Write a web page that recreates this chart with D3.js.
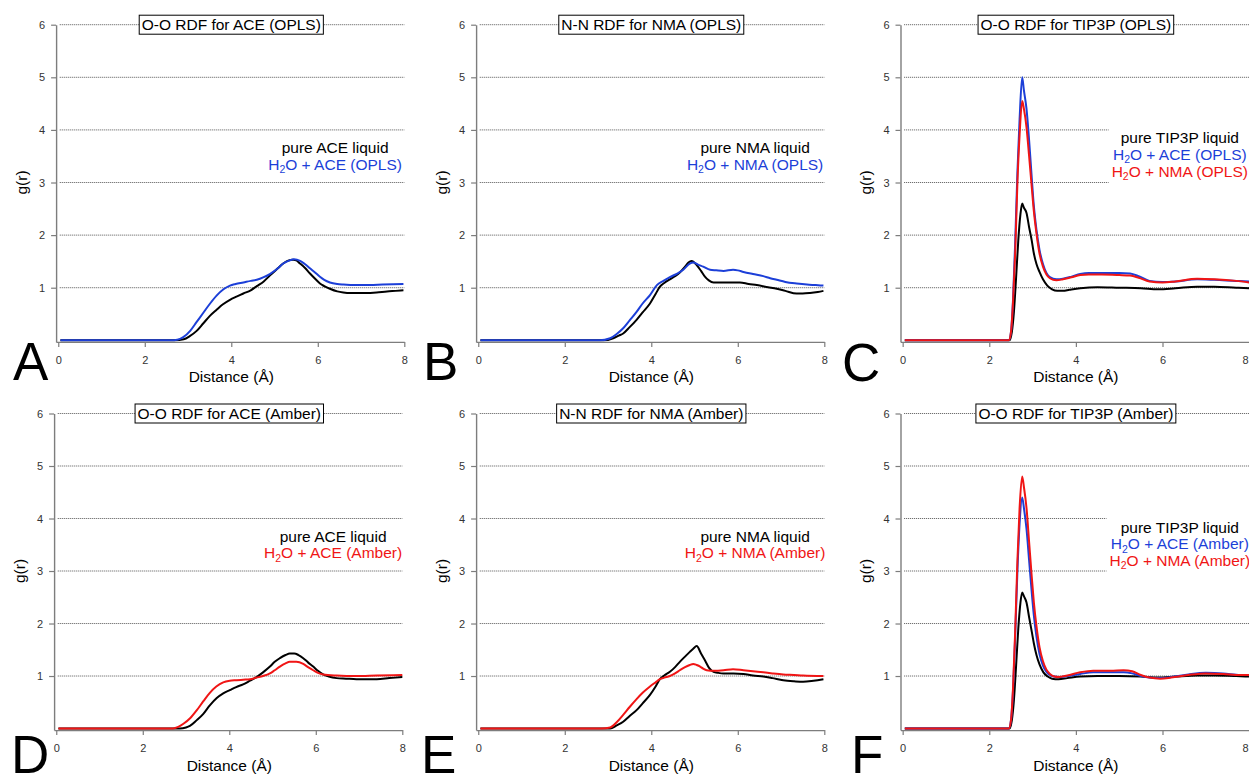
<!DOCTYPE html>
<html><head><meta charset="utf-8">
<script src="https://cdn.jsdelivr.net/npm/d3@7"></script>
<style>
body{margin:0;background:#fff}
svg{display:block}
text{font-family:"Liberation Sans",Arial,Helvetica,sans-serif}
</style>
</head><body><svg id="c" width="1249" height="774"></svg>
<script>
// ---------- data ----------
const xTicks = [0, 2, 4, 6, 8];
const yTicks = [1, 2, 3, 4, 5, 6];

const A_pure = [[0.05,0],[2.7,0],[2.9,0.02],[3.04,0.08],[3.2,0.18],[3.35,0.32],[3.5,0.46],[3.66,0.58],[3.8,0.68],[3.97,0.77],[4.12,0.83],[4.28,0.89],[4.45,0.95],[4.59,1.03],[4.75,1.12],[4.89,1.23],[5.05,1.35],[5.2,1.46],[5.3,1.51],[5.43,1.53],[5.5,1.52],[5.59,1.46],[5.7,1.38],[5.82,1.27],[5.95,1.16],[6.05,1.08],[6.15,1.03],[6.28,0.98],[6.45,0.93],[6.59,0.91],[6.75,0.9],[6.9,0.9],[7.1,0.9],[7.36,0.91],[7.6,0.93],[7.8,0.94],[7.98,0.95]];
const A_ace = [[0.05,0],[2.6,0],[2.75,0.01],[2.89,0.06],[3.05,0.18],[3.2,0.35],[3.35,0.52],[3.51,0.7],[3.66,0.85],[3.82,0.97],[3.97,1.04],[4.1,1.07],[4.28,1.1],[4.45,1.13],[4.59,1.15],[4.75,1.2],[4.89,1.26],[5.05,1.35],[5.2,1.46],[5.35,1.52],[5.45,1.54],[5.59,1.51],[5.7,1.45],[5.82,1.37],[5.95,1.28],[6.05,1.21],[6.15,1.15],[6.28,1.1],[6.45,1.07],[6.59,1.06],[6.9,1.05],[7.2,1.05],[7.5,1.06],[7.98,1.07]];

const B_pure = [[0.05,0],[2.9,0],[3.12,0.04],[3.25,0.09],[3.35,0.13],[3.5,0.25],[3.66,0.39],[3.8,0.53],[3.97,0.7],[4.1,0.88],[4.2,1.02],[4.3,1.09],[4.43,1.16],[4.55,1.22],[4.66,1.29],[4.78,1.4],[4.86,1.48],[4.93,1.51],[4.98,1.49],[5.05,1.43],[5.15,1.32],[5.24,1.21],[5.33,1.14],[5.44,1.1],[5.6,1.1],[5.82,1.1],[6.05,1.1],[6.25,1.07],[6.44,1.05],[6.7,1.01],[6.9,0.98],[7.1,0.94],[7.36,0.89],[7.5,0.89],[7.67,0.9],[7.85,0.92],[7.98,0.94]];
const B_nma = [[0.05,0],[2.8,0],[3.05,0.04],[3.2,0.12],[3.35,0.23],[3.5,0.38],[3.66,0.54],[3.8,0.7],[3.97,0.86],[4.13,1.05],[4.28,1.13],[4.43,1.2],[4.6,1.27],[4.74,1.34],[4.89,1.46],[4.97,1.48],[5.08,1.44],[5.2,1.4],[5.36,1.34],[5.5,1.33],[5.67,1.32],[5.89,1.34],[6.0,1.33],[6.13,1.3],[6.35,1.26],[6.59,1.22],[6.75,1.18],[6.9,1.15],[7.1,1.11],[7.36,1.08],[7.6,1.06],[7.8,1.05],[7.98,1.04]];

const C_pure = [[0.05,0],[2.47,0],[2.52,0.15],[2.57,0.55],[2.62,1.2],[2.67,1.9],[2.72,2.4],[2.76,2.6],[2.8,2.52],[2.86,2.42],[2.92,2.15],[2.98,1.9],[3.03,1.65],[3.09,1.45],[3.16,1.3],[3.24,1.16],[3.34,1.04],[3.45,0.97],[3.57,0.94],[3.7,0.94],[3.85,0.96],[4.1,0.99],[4.5,1.01],[5.0,1.0],[5.5,0.99],[5.9,0.97],[6.3,0.99],[6.8,1.02],[7.2,1.02],[7.7,1.0],[8.0,0.99]];
const C_ace = [[0.05,0],[2.45,0],[2.5,0.15],[2.55,0.8],[2.6,1.9],[2.65,3.2],[2.7,4.2],[2.76,5.0],[2.8,4.75],[2.86,4.4],[2.92,3.8],[2.98,3.1],[3.03,2.55],[3.09,2.1],[3.16,1.72],[3.24,1.45],[3.32,1.28],[3.4,1.2],[3.55,1.16],[3.7,1.17],[3.9,1.21],[4.1,1.26],[4.3,1.28],[4.6,1.28],[5.0,1.28],[5.25,1.27],[5.45,1.22],[5.7,1.13],[6.0,1.11],[6.3,1.12],[6.8,1.16],[7.2,1.15],[7.7,1.13],[8.0,1.12]];
const C_nma = [[0.05,0],[2.45,0],[2.5,0.15],[2.55,0.75],[2.6,1.7],[2.65,3.0],[2.7,3.9],[2.76,4.55],[2.8,4.4],[2.86,4.05],[2.92,3.5],[2.98,2.92],[3.03,2.45],[3.09,2.03],[3.16,1.65],[3.24,1.4],[3.32,1.25],[3.4,1.18],[3.55,1.14],[3.7,1.16],[3.9,1.2],[4.1,1.24],[4.3,1.25],[4.6,1.25],[5.0,1.24],[5.25,1.23],[5.45,1.19],[5.7,1.12],[6.0,1.1],[6.3,1.12],[6.8,1.17],[7.2,1.16],[7.7,1.13],[8.0,1.1]];

const D_pure = [[0.05,0],[2.86,0],[3.0,0.02],[3.09,0.05],[3.25,0.16],[3.4,0.28],[3.55,0.44],[3.71,0.58],[3.86,0.67],[4.01,0.73],[4.16,0.79],[4.32,0.84],[4.48,0.91],[4.63,0.98],[4.78,1.07],[4.94,1.18],[5.05,1.27],[5.17,1.34],[5.3,1.4],[5.4,1.43],[5.5,1.43],[5.6,1.4],[5.71,1.34],[5.82,1.26],[5.94,1.18],[6.05,1.1],[6.17,1.03],[6.3,0.99],[6.48,0.96],[6.7,0.95],[6.94,0.94],[7.2,0.94],[7.41,0.94],[7.7,0.96],[8.0,0.98]];
const D_ace = [[0.05,0],[2.7,0],[2.82,0.03],[2.94,0.09],[3.1,0.2],[3.25,0.35],[3.4,0.52],[3.55,0.68],[3.7,0.8],[3.86,0.88],[4.01,0.91],[4.17,0.92],[4.32,0.93],[4.48,0.94],[4.63,0.97],[4.78,1.0],[4.94,1.05],[5.05,1.11],[5.17,1.18],[5.3,1.24],[5.4,1.27],[5.55,1.27],[5.71,1.23],[5.82,1.17],[5.94,1.11],[6.05,1.06],[6.17,1.03],[6.48,1.01],[6.94,1.0],[7.41,1.01],[8.0,1.02]];

const E_pure = [[0.05,0],[2.95,0],[3.05,0],[3.2,0.06],[3.35,0.13],[3.5,0.24],[3.66,0.35],[3.8,0.48],[3.97,0.64],[4.1,0.8],[4.2,0.94],[4.3,1.01],[4.43,1.08],[4.55,1.17],[4.66,1.27],[4.78,1.37],[4.89,1.46],[4.97,1.52],[5.05,1.57],[5.15,1.43],[5.24,1.3],[5.34,1.15],[5.44,1.08],[5.55,1.06],[5.67,1.05],[5.9,1.05],[6.13,1.04],[6.35,1.01],[6.59,0.99],[6.8,0.96],[7.05,0.92],[7.3,0.9],[7.51,0.89],[7.75,0.91],[7.98,0.94]];
const E_nma = [[0.05,0],[2.85,0],[3.05,0.02],[3.2,0.12],[3.35,0.26],[3.5,0.41],[3.66,0.56],[3.8,0.68],[3.97,0.8],[4.1,0.88],[4.2,0.94],[4.3,0.97],[4.43,1.0],[4.55,1.05],[4.66,1.11],[4.78,1.17],[4.89,1.21],[4.97,1.23],[5.05,1.21],[5.13,1.18],[5.2,1.14],[5.28,1.11],[5.45,1.1],[5.67,1.11],[5.89,1.13],[6.13,1.11],[6.35,1.09],[6.59,1.07],[6.8,1.05],[7.05,1.03],[7.3,1.02],[7.51,1.01],[7.98,1.0]];

const F_pure = [[0.05,0],[2.47,0],[2.52,0.15],[2.57,0.55],[2.62,1.2],[2.67,1.9],[2.72,2.4],[2.76,2.59],[2.8,2.52],[2.86,2.4],[2.92,2.12],[2.98,1.85],[3.03,1.62],[3.09,1.4],[3.16,1.22],[3.25,1.07],[3.35,0.99],[3.45,0.95],[3.6,0.94],[3.8,0.96],[4.1,0.99],[4.5,1.0],[5.0,1.0],[5.5,0.99],[5.9,0.97],[6.3,0.99],[6.8,1.01],[7.2,1.01],[7.7,1.0],[8.0,0.99]];
const F_ace = [[0.05,0],[2.45,0],[2.5,0.15],[2.55,0.75],[2.6,1.8],[2.65,3.0],[2.7,3.9],[2.76,4.4],[2.8,4.2],[2.86,3.8],[2.92,3.2],[2.98,2.6],[3.03,2.15],[3.09,1.75],[3.16,1.42],[3.24,1.2],[3.32,1.08],[3.4,1.02],[3.5,0.99],[3.6,0.98],[3.8,1.0],[4.1,1.04],[4.4,1.07],[4.8,1.07],[5.1,1.07],[5.3,1.05],[5.5,1.0],[5.7,0.97],[5.95,0.96],[6.2,0.98],[6.6,1.03],[7.0,1.06],[7.4,1.05],[7.8,1.02],[8.0,1.02]];
const F_nma = [[0.05,0],[2.45,0],[2.5,0.15],[2.55,0.8],[2.6,1.9],[2.65,3.2],[2.7,4.2],[2.76,4.8],[2.8,4.6],[2.86,4.2],[2.92,3.55],[2.98,2.9],[3.03,2.4],[3.09,1.95],[3.16,1.55],[3.24,1.28],[3.32,1.12],[3.4,1.04],[3.5,0.99],[3.6,0.98],[3.8,1.01],[4.1,1.07],[4.4,1.1],[4.8,1.1],[5.1,1.11],[5.3,1.09],[5.5,1.02],[5.7,0.97],[5.95,0.95],[6.2,0.97],[6.6,1.02],[7.0,1.05],[7.4,1.04],[7.8,1.02],[8.0,1.02]];

const titles = ["O-O RDF for ACE (OPLS)","N-N RDF for NMA (OPLS)","O-O RDF for TIP3P (OPLS)","O-O RDF for ACE (Amber)","N-N RDF for NMA (Amber)","O-O RDF for TIP3P (Amber)"];
const letters = ["A","B","C","D","E","F"];
const legendA = ["pure ACE liquid","H2O + ACE (OPLS)"];
const legendB = ["pure NMA liquid","H2O + NMA (OPLS)"];
const legendC = ["pure TIP3P liquid","H2O + ACE (OPLS)","H2O + NMA (OPLS)"];
const legendD = ["pure ACE liquid","H2O + ACE (Amber)"];
const legendE = ["pure NMA liquid","H2O + NMA (Amber)"];
const legendF = ["pure TIP3P liquid","H2O + ACE (Amber)","H2O + NMA (Amber)"];

// ---------- layout / styles ----------
const BLACK = "#000000", BLUE = "#1c3fd8", RED = "#f01515";
const W = 1249, H = 774;
const xDom = [-0.05, 8], yDom = [-0.03, 6];
const panels = [
  {xr:[56.1,404.3],  yr:[341.9,24.7],  series:[A_pure,A_ace], cols:[BLACK,BLUE], legend:legendA, lcols:[BLACK,BLUE], ly:3.56, let:[13,380]},
  {xr:[476.1,824.3], yr:[341.9,24.7],  series:[B_pure,B_nma], cols:[BLACK,BLUE], legend:legendB, lcols:[BLACK,BLUE], ly:3.56, let:[423,380]},
  {xr:[900.5,1249.1],yr:[341.9,24.7],  series:[C_pure,C_ace,C_nma], cols:[BLACK,BLUE,RED], legend:legendC, lcols:[BLACK,BLUE,RED], ly:3.745, let:[842,381]},
  {xr:[54.1,402.3],  yr:[730.1,413.5], series:[D_pure,D_ace], cols:[BLACK,RED], legend:legendD, lcols:[BLACK,RED], ly:3.56, let:[11,773]},
  {xr:[476.1,824.3], yr:[730.1,413.5], series:[E_pure,E_nma], cols:[BLACK,RED], legend:legendE, lcols:[BLACK,RED], ly:3.56, let:[421,773]},
  {xr:[900.5,1249.1],yr:[730.1,413.5], series:[F_pure,F_ace,F_nma], cols:[BLACK,BLUE,RED], legend:legendF, lcols:[BLACK,BLUE,RED], ly:3.73, let:[851,773]}
];

const svg = d3.select("#c");
svg.append("rect").attr("width",W).attr("height",H).attr("fill","#fff");

panels.forEach((p, i) => {
  const x = d3.scaleLinear().domain(xDom).range(p.xr);
  const y = d3.scaleLinear().domain(yDom).range(p.yr);
  const g = svg.append("g");

  // grid
  g.append("g").selectAll("line").data(yTicks).join("line")
    .attr("x1", x(0) + 1.5).attr("x2", Math.min(x(8), W))
    .attr("y1", d => y(d)).attr("y2", d => y(d))
    .attr("stroke", "#555").attr("stroke-width", 1).attr("stroke-dasharray", "1,1");

  // curves
  const line = d3.line().x(d => x(d[0])).y(d => y(d[1])).curve(d3.curveMonotoneX);
  p.series.forEach((s, k) => {
    g.append("path").datum(s).attr("d", line).attr("fill", "none")
      .attr("stroke", p.cols[k]).attr("stroke-width", 2).attr("stroke-linejoin","round");
  });

  // axes
  const ax = g.append("g").attr("transform", `translate(0,${p.yr[0]})`)
    .call(d3.axisBottom(x).tickValues(xTicks).tickFormat(d3.format("d")).tickSize(5).tickSizeOuter(0).tickPadding(9));
  const ay = g.append("g").attr("transform", `translate(${p.xr[0]},0)`)
    .call(d3.axisLeft(y).tickValues(yTicks).tickFormat(d3.format("d")).tickSize(5).tickSizeOuter(0).tickPadding(6));
  [ax, ay].forEach(a => {
    a.select(".domain").attr("stroke", "#7d7d7d").attr("stroke-width", 1.4);
    a.selectAll(".tick line").attr("stroke", "#7d7d7d").attr("stroke-width", 1.2);
    a.selectAll(".tick text").attr("font-size", 11).attr("fill", "#333")
      .attr("font-family", "'Liberation Sans',Arial,sans-serif");
  });
  // keep an edge tick label inside the window
  ax.selectAll(".tick text").each(function(d) {
    if (x(d) + 4 > W) d3.select(this).attr("text-anchor", "end").attr("x", W - 1 - x(d));
  });

  // axis titles
  g.append("text").attr("x", x(4)).attr("y", p.yr[0] + 40.5).attr("text-anchor", "middle")
    .attr("font-size", 15.5).attr("fill", "#000").text("Distance (Å)");
  g.append("text").attr("transform", `translate(${x(0) - 36.6},${(y(0) + y(6)) / 2}) rotate(-90)`)
    .attr("dy", "0.32em").attr("text-anchor", "middle").attr("font-size", 15.5).text("g(r)");

  // title box
  const tb = g.append("g");
  const tt = tb.append("text").attr("x", x(4)).attr("y", y(6) + 5.5).attr("text-anchor", "middle")
    .attr("font-size", 15.5).text(titles[i]);
  const bb = tt.node().getBBox();
  tb.insert("rect", "text").attr("x", bb.x - 2.5).attr("y", y(6) - 9.5)
    .attr("width", bb.width + 5).attr("height", 19)
    .attr("fill", "#fff").attr("stroke", "#000").attr("stroke-width", 1);

  // legend
  const lg = g.append("g");
  p.legend.forEach((s, k) => {
    const yy = y(p.ly) + k * 16.6;
    const t = lg.append("text").attr("x", x(6.4)).attr("y", yy).attr("text-anchor", "middle")
      .attr("font-size", 15.5).attr("fill", p.lcols[k]);
    if (s.startsWith("H2O")) {
      t.append("tspan").text("H");
      t.append("tspan").attr("font-size", 10.5).attr("dy", 3.5).text("2");
      t.append("tspan").attr("dy", -3.5).text(s.slice(2));
    } else {
      t.text(s);
    }
  });
  const lb = lg.node().getBBox();
  lg.insert("rect", "text").attr("x", lb.x - 3).attr("y", lb.y - 1)
    .attr("width", lb.width + 6).attr("height", lb.height + 2).attr("fill", "#fff");

  // panel letter
  g.append("text").attr("x", p.let[0]).attr("y", p.let[1]).attr("font-size", 53)
    .attr("fill", "#000").text(letters[i]);
});
</script>
</body></html>
